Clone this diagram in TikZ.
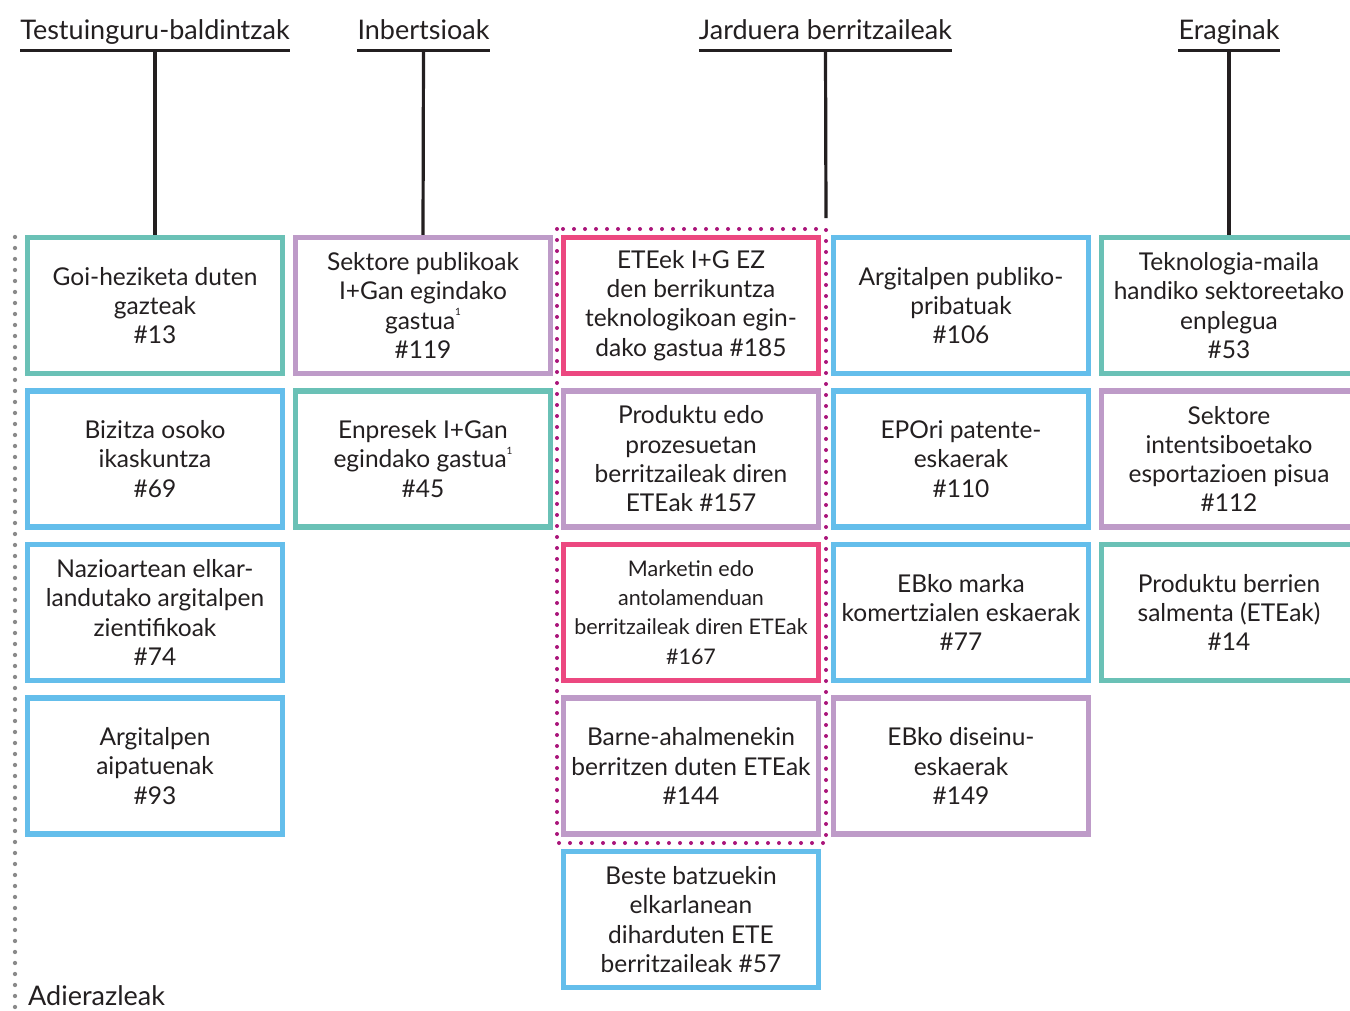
\documentclass[tikz,border=0pt]{standalone}
\usepackage{fontspec}
\setmainfont{Lato}
\definecolor{ink}{RGB}{35,31,32}
\definecolor{tealc}{RGB}{106,193,182}
\definecolor{lilac}{RGB}{190,155,200}
\definecolor{sky}{RGB}{100,190,235}
\definecolor{rose}{RGB}{236,72,128}
\definecolor{plum}{RGB}{170,20,122}
\definecolor{dotgray}{RGB}{138,138,138}
\newcommand{\boxfont}{\fontsize{24.5}{29.3}\selectfont}
\newcommand{\smallboxfont}{\fontsize{21.5}{29.3}\selectfont}
\newcommand{\hdrfont}{\fontsize{27}{32}\selectfont}
\newcommand{\supone}{\raisebox{0.55em}{\fontsize{10}{10}\selectfont 1}}
\tikzset{
  ibox/.style={draw=#1, line width=5.5pt, minimum width=255pt, minimum height=136pt,
    inner sep=0pt, align=center, font=\boxfont, text=ink},
  hdr/.style={inner sep=0pt, anchor=base, font=\hdrfont, text=ink},
  uline/.style={draw=ink, line width=3pt},
  conn/.style={draw=ink, line width=3.2pt},
  magdots/.style={draw=plum, line width=4pt, line cap=round, dash pattern=on 0pt off 11pt},
  graydots/.style={draw=dotgray, line width=4.3pt, line cap=round, dash pattern=on 0pt off 11pt}
}
\begin{document}
\begin{tikzpicture}[x=1pt,y=-1pt]
\useasboundingbox[fill=white] (0,0) rectangle (1350,1010);
\clip (0,0) rectangle (1350,1010);

% headers
\node[hdr] (h1) at (155,39.5) {Testuinguru-baldintzak};
\node[hdr] (h2) at (423.5,39.5) {Inbertsioak};
\node[hdr] (h3) at (825.5,39.5) {Jarduera berritzaileak};
\node[hdr] (h4) at (1229,39.5) {Eraginak};
\foreach \h in {h1,h2,h3,h4}{
  \draw[uline] ([yshift=-10.5pt]\h.base west) -- ([yshift=-10.5pt]\h.base east);
}

% column 1
\node[ibox=tealc] (c13) at (155,305.5) {Goi-heziketa duten\\gazteak\\\#13};
\node[ibox=sky] (c69) at (155,459) {Bizitza osoko\\ikaskuntza\\\#69};
\node[ibox=sky] (c74) at (155,612.5) {Nazioartean elkar-\\landutako argitalpen\\zientifikoak\\\#74};
\node[ibox=sky] (c93) at (155,766) {Argitalpen\\aipatuenak\\\#93};

% column 2
\node[ibox=lilac] (c119) at (423,305.5) {Sektore publikoak\\I+Gan egindako\\gastua\supone\\\#119};
\node[ibox=tealc] (c45) at (423,459) {Enpresek I+Gan\\egindako gastua\supone\\\#45};

% column 3
\node[ibox=rose] (c185) at (691,305.5) {ETEek I+G EZ\\den berrikuntza\\teknologikoan egin-\\dako gastua \#185};
\node[ibox=lilac] (c157) at (691,459) {Produktu edo\\prozesuetan\\berritzaileak diren\\ETEak \#157};
\node[ibox=rose, font=\smallboxfont] (c167) at (691,612.5) {Marketin edo\\antolamenduan\\berritzaileak diren ETEak\\\#167};
\node[ibox=lilac] (c144) at (691,766) {Barne-ahalmenekin\\berritzen duten ETEak\\\#144};
\node[ibox=sky] (c57) at (691,919.5) {Beste batzuekin\\elkarlanean\\diharduten ETE\\berritzaileak \#57};

% column 4
\node[ibox=sky] (c106) at (961,305.5) {Argitalpen publiko-\\pribatuak\\\#106};
\node[ibox=sky] (c110) at (961,459) {EPOri patente-\\eskaerak\\\#110};
\node[ibox=sky] (c77) at (961,612.5) {EBko marka\\komertzialen eskaerak\\\#77};
\node[ibox=lilac] (c149) at (961,766) {EBko diseinu-\\eskaerak\\\#149};

% column 5
\node[ibox=tealc] (c53) at (1229,305.5) {Teknologia-maila\\handiko sektoreetako\\enplegua\\\#53};
\node[ibox=lilac] (c112) at (1229,459) {Sektore\\intentsiboetako\\esportazioen pisua\\\#112};
\node[ibox=tealc] (c14) at (1229,612.5) {Produktu berrien\\salmenta (ETEak)\\\#14};

% dotted group frame
\draw[magdots] (557,229) rectangle (826,843);

% connectors
\coordinate (j3) at (826,218);
\draw[conn] ([yshift=-10.5pt]h1.base) -- (c13.north);
\draw[conn] ([yshift=-10.5pt]h2.base) -- (c119.north);
\draw[conn] ([yshift=-10.5pt]h3.base) -- (j3);
\draw[conn] ([yshift=-10.5pt]h4.base) -- (c53.north);

% left dotted axis
\draw[graydots] (15,237) -- (15,1010);
\node[hdr, anchor=base west] (adz) at (28,1005) {Adierazleak};
\end{tikzpicture}
\end{document}
